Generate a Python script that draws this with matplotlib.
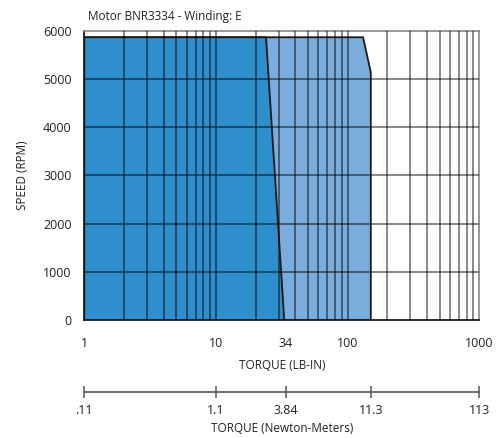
import matplotlib
matplotlib.use("Agg")
import matplotlib.pyplot as plt
from matplotlib.ticker import FixedLocator, NullLocator

plt.rcParams['font.family'] = ['Open Sans', 'DejaVu Sans']

title = "Motor BNR3334 - Winding: E"
cont_torque = [1, 24, 33]
cont_speed = [5870, 5870, 0]
peak_torque = [1, 131, 150, 150]
peak_speed = [5870, 5870, 5140, 0]
x_ticks = [1, 10, 34, 100, 1000]
x_labels = ["1", "10", "34", "100", "1000"]
y_ticks = [0, 1000, 2000, 3000, 4000, 5000, 6000]
nm_ticks = [1, 10, 34, 150, 1000]
nm_labels = [".11", "1.1", "3.84", "11.3", "113"]

W, H = 502, 438
fig = plt.figure(figsize=(W/100, H/100), dpi=100)
ax = fig.add_axes([84.3/W, 1-320/H, (479.3-84.3)/W, (320-31)/H])
ax.set_xscale('log')
ax.set_xlim(1, 1000)
ax.set_ylim(0, 6000)

px = peak_torque + [peak_torque[0]]
py = peak_speed + [0]
ax.fill(px, py, facecolor='#7aacdc', edgecolor='#1a1a1a', linewidth=1.3, zorder=2)
cx = cont_torque + [cont_torque[0]]
cy = cont_speed + [0]
ax.fill(cx, cy, facecolor='#2f8fcd', edgecolor='#1a1a1a', linewidth=1.3, zorder=3)

# grid
for dec in [1, 10, 100]:
    for m in range(1, 10):
        v = dec * m
        if 1 < v < 1000:
            ax.axvline(v, color='black', alpha=0.55, linewidth=1.2, zorder=4)
for y in y_ticks[1:-1]:
    ax.axhline(y, color='black', alpha=0.55, linewidth=1.2, zorder=4)

for s in ['top', 'right']:
    ax.spines[s].set_color('#888888')
    ax.spines[s].set_linewidth(1.2)
ax.spines['left'].set_color('#1a1a1a')
ax.spines['left'].set_linewidth(1.3)
ax.spines['bottom'].set_color('#1a1a1a')
ax.spines['bottom'].set_linewidth(1.3)

ax.xaxis.set_major_locator(FixedLocator(x_ticks))
ax.set_xticklabels(x_labels)
ax.xaxis.set_minor_locator(NullLocator())
ax.set_yticks(y_ticks)
ax.set_yticklabels([str(v) for v in y_ticks])
ax.tick_params(axis='both', length=0, labelsize=9, colors='#222222')
ax.tick_params(axis='x', pad=12)
ax.tick_params(axis='y', pad=9)
ax.set_xlabel("TORQUE (LB-IN)", fontsize=8.5, color='#222222', labelpad=7)
ax.set_ylabel("SPEED (RPM)", fontsize=8.5, color='#222222', labelpad=10)
ax.set_title(title, fontsize=8.5, loc='left', color='#222222', pad=8, x=0.01)

# secondary Newton-Meter axis
ax2 = fig.add_axes([84.3/W, 1-392/H, (479.3-84.3)/W, 0.001])
ax2.set_xscale('log')
ax2.set_xlim(1, 1000)
for s in ['top', 'left', 'right']:
    ax2.spines[s].set_visible(False)
ax2.spines['bottom'].set_color('#6b5f5f')
ax2.spines['bottom'].set_linewidth(1.3)
ax2.set_yticks([])
ax2.xaxis.set_major_locator(FixedLocator(nm_ticks))
ax2.set_xticklabels(nm_labels)
ax2.xaxis.set_minor_locator(NullLocator())
ax2.tick_params(axis='x', direction='inout', length=8, width=1.2, color='#6b5f5f',
                labelsize=9, labelcolor='#222222', pad=5)
ax2.set_xlabel("TORQUE (Newton-Meters)", fontsize=8.5, color='#222222', labelpad=3)

fig.savefig("out.png", dpi=100)
